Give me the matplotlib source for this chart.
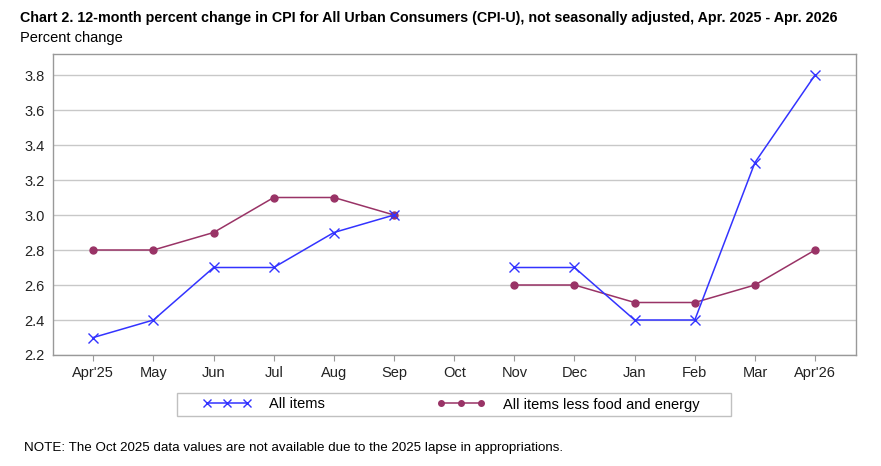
import numpy as np
import matplotlib
matplotlib.use("Agg")
import matplotlib.pyplot as plt
from matplotlib.patches import Rectangle

plt.rcParams['font.family'] = ['Liberation Sans', 'DejaVu Sans']

months = ["Apr'25", "May", "Jun", "Jul", "Aug", "Sep", "Oct",
          "Nov", "Dec", "Jan", "Feb", "Mar", "Apr'26"]
all_items = [2.3, 2.4, 2.7, 2.7, 2.9, 3.0, np.nan, 2.7, 2.7, 2.4, 2.4, 3.3, 3.8]
core = [2.8, 2.8, 2.9, 3.1, 3.1, 3.0, np.nan, 2.6, 2.6, 2.5, 2.5, 2.6, 2.8]
yticks = [2.2, 2.4, 2.6, 2.8, 3.0, 3.2, 3.4, 3.6, 3.8]

W, H = 881, 466
fig = plt.figure(figsize=(W / 100, H / 100), dpi=100)
# plot area in pixels: left 53, right 856, top 54, bottom 355
ax = fig.add_axes([53 / W, 1 - 355 / H, (856 - 53) / W, (355 - 54) / H])

x = np.arange(len(months))
l2, = ax.plot(x, core, color='#993366', lw=1.1, marker='o', ms=5,
              label='All items less food and energy', zorder=3)
l1, = ax.plot(x, all_items, color='#3333ff', lw=1.1, marker='x', ms=7,
              mew=1.0, label='All items', zorder=4)

ax.set_xlim(-0.67, 12.68)
ax.set_ylim(2.2, 3.92)
ax.set_xticks(x)
ax.set_xticklabels(months)
ax.set_yticks(yticks)
ax.set_yticklabels(['%.1f' % v for v in yticks])
ax.tick_params(axis='x', length=4, color='#999999', labelsize=10.5, pad=4,
               labelcolor='#222222')
ax.tick_params(axis='y', length=0, labelsize=10.5, pad=6, labelcolor='#222222')
ax.grid(axis='y', color='#c8c8c8', lw=1.0)
ax.set_axisbelow(True)
for s in ax.spines.values():
    s.set_color('#999999')
    s.set_linewidth(1.0)

fig.text(20 / W, 1 - 18 / H,
         'Chart 2. 12-month percent change in CPI for All Urban Consumers (CPI-U), '
         'not seasonally adjusted, Apr. 2025 - Apr. 2026',
         fontsize=10.3, fontweight='bold', va='center', ha='left')
fig.text(20 / W, 1 - 38 / H, 'Percent change', fontsize=10.5, va='center',
         ha='left')

# legend frame drawn by hand, entries placed as two one-item legends
fig.add_artist(Rectangle((177 / W, 1 - 416 / H), (731 - 177) / W, 23 / H,
                         transform=fig.transFigure, fill=False,
                         edgecolor='#c0c0c0', lw=1.0))
for h, x0 in [(l1, 203), (l2, 437)]:
    fig.legend(handles=[h], loc='center left', numpoints=3, markerscale=0.8,
               bbox_to_anchor=(x0 / W, 1 - 404.5 / H), fontsize=10.5,
               frameon=False, handlelength=3.35, borderaxespad=0,
               borderpad=0, handletextpad=1.2)

fig.text(24 / W, 1 - 448 / H,
         'NOTE: The Oct 2025 data values are not available due to the 2025 lapse in appropriations.',
         fontsize=9.6, va='center', ha='left')

fig.savefig('out.png', dpi=100)
